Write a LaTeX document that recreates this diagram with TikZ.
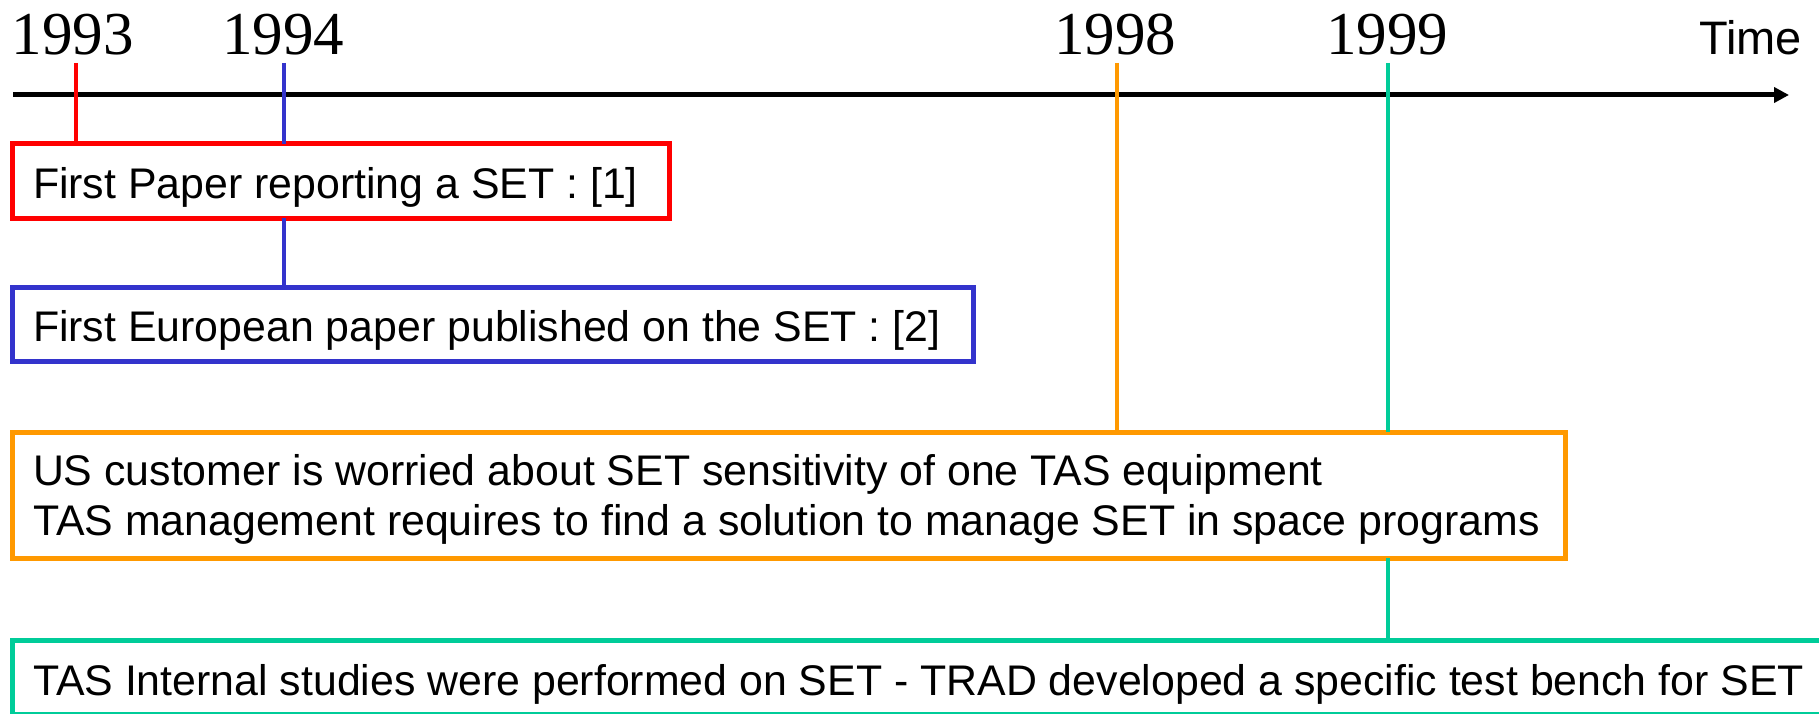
\documentclass[tikz,border=0pt]{standalone}
\usepackage{fontspec}
\setmainfont{Liberation Sans}
\newfontfamily\yearfont{Liberation Serif}
\usetikzlibrary{arrows.meta}

\definecolor{evred}{HTML}{FF0000}
\definecolor{evblue}{HTML}{3333CC}
\definecolor{evorange}{HTML}{FF9900}
\definecolor{evgreen}{HTML}{00CC99}

% event text laid out from its first baseline
\newcommand{\evtext}[2]{\parbox[t]{#1}{\raggedright\fontsize{42.85}{50}\selectfont #2}}

\begin{document}
\begin{tikzpicture}[x=1pt,y=-1pt,
  year/.style={font=\yearfont\fontsize{61}{61}\selectfont, inner sep=0pt, anchor=base},
  event/.style={draw=#1, fill=white, line width=5pt, rectangle, anchor=north west,
    inner xsep=21pt, inner ysep=0pt, outer sep=0pt, text height=54pt, text depth=20pt},
  tick/.style={draw=#1, line width=4.2pt},
  axis/.style={line width=5pt, -{Triangle[length=15pt,width=15pt]}}]

\useasboundingbox (0,0) rectangle (1819,714);
\clip (0,0) rectangle (1819,714);

% year labels and axis caption
\node[year] (y93) at (73,55) {1993};
\node[year] (y94) at (283,55) {1994};
\node[year] (y98) at (1115,55) {1998};
\node[year] (y99) at (1387,55) {1999};
\node[font=\fontsize{47}{47}\selectfont, inner sep=0pt, anchor=base east] (time) at (1802,55) {Time};

% time axis
\coordinate (axisL) at (13,95);
\coordinate (axisR) at (1789,95);
\draw[axis] (axisL) -- (axisR);

% tick tops
\coordinate (t93) at (76,63);
\coordinate (t94) at (284,63);
\coordinate (t98) at (1117,63);
\coordinate (t99) at (1388,63);

% event boxes
\node[event=evred] (e93) at (12,144)
  {\evtext{615pt}{First Paper reporting a SET : [1]}};
\node[event=evblue] (e94) at (12,287)
  {\evtext{919pt}{First European paper published on the SET : [2]}};
\node[event=evorange, text height=53pt, text depth=73pt] (e98) at (12,432)
  {\evtext{1511pt}{US customer is worried about SET sensitivity of one TAS equipment\\
   TAS management requires to find a solution to manage SET in space programs}};
\node[event=evgreen, text height=55pt, text depth=19pt] (e99) at (12,640)
  {\evtext{1790pt}{TAS Internal studies were performed on SET - TRAD developed a specific test bench for SET}};

% links from the axis to the events
\draw[tick=evred] (t93) -- (t93 |- e93.north);
\draw[tick=evblue] (t94) -- (t94 |- e93.north);
\draw[tick=evblue] (t94 |- e93.south) -- (t94 |- e94.north);
\draw[tick=evorange] (t98) -- (t98 |- e98.north);
\draw[tick=evgreen] (t99) -- (t99 |- e98.north);
\draw[tick=evgreen] (t99 |- e98.south) -- (t99 |- e99.north);
\end{tikzpicture}
\end{document}
